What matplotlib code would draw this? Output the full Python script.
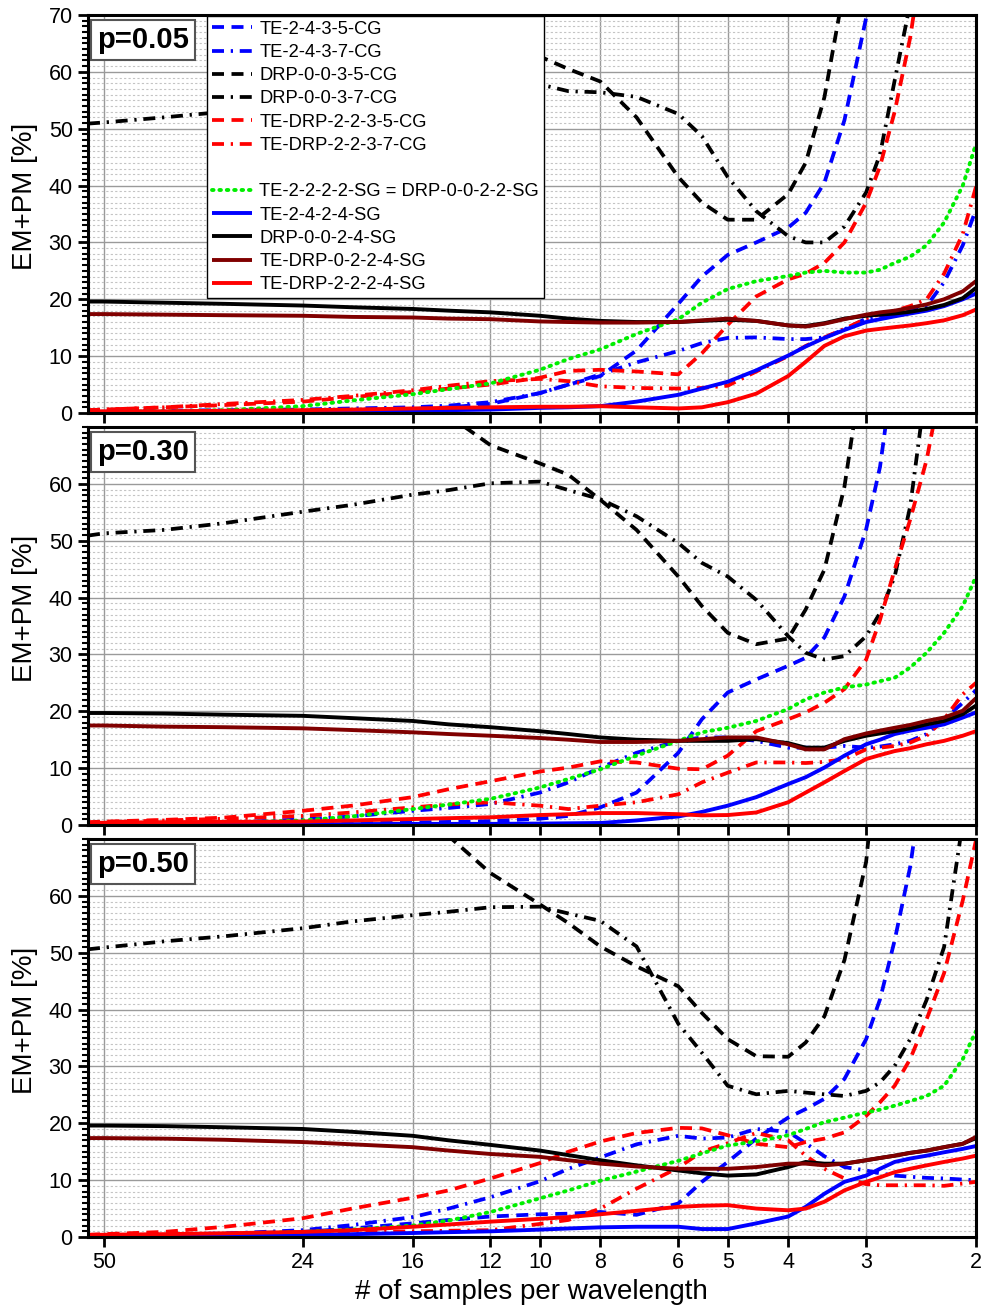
import numpy as np
import matplotlib
matplotlib.use("Agg")
import matplotlib.pyplot as plt
from matplotlib.lines import Line2D
from matplotlib.ticker import FixedLocator, MultipleLocator, NullLocator

nan = np.nan

# samples per wavelength, shared abscissa of every curve
spw = [53, 50, 40, 32, 24, 20, 16, 14, 12, 10, 9, 8, 7, 6, 5.5, 5, 4.5, 4,
       3.75, 3.5, 3.25, 3, 2.85, 2.7, 2.55, 2.4, 2.25, 2.1, 2]
spw_ticks = [50, 24, 16, 12, 10, 8, 6, 5, 4, 3, 2]

labels = ["TE-2-4-3-5-CG", "TE-2-4-3-7-CG", "DRP-0-0-3-5-CG", "DRP-0-0-3-7-CG",
          "TE-DRP-2-2-3-5-CG", "TE-DRP-2-2-3-7-CG",
          "TE-2-2-2-2-SG = DRP-0-0-2-2-SG", "TE-2-4-2-4-SG", "DRP-0-0-2-4-SG",
          "TE-DRP-0-2-2-4-SG", "TE-DRP-2-2-2-4-SG"]

# ---- p = 0.05 ----
p05_te2435 = [0.2, 0.2, 0.2, 0.3, 0.4, 0.5, 0.7, 1.0, 1.6, 3.5, 5.0, 6.5, 11.0, 19.2, 24.0, 27.8, 30.0, 32.6,
              35.2, 40.5, 51.5, 69.5, 85, nan, nan, nan, nan, nan, nan]
p05_te2437 = [0.3, 0.3, 0.4, 0.5, 0.6, 0.8, 1.0, 1.3, 1.9, 3.5, 5.0, 6.8, 8.9, 10.9, 12.3, 13.2, 13.3, 13.0,
              13.0, 13.3, 14.7, 16.6, 17.1, 17.5, 18.0, 18.8, 23.0, 29.5, 35.8]
p05_drp0035 = [nan, nan, nan, nan, nan, nan, nan, 74, 68, 62.7, 60.5, 58.3, 52.0, 41.5, 37.0, 34.0, 34.0, 38.5,
               44.0, 55.5, 75, nan, nan, nan, nan, nan, nan, nan, nan]
p05_drp0037 = [50.9, 51.1, 52.0, 53.0, 55.0, 56.0, 57.0, 57.5, 58.0, 57.8, 56.6, 56.4, 55.6, 52.6, 48.7, 41.5, 35.5, 31.1,
               30.0, 30.0, 32.8, 38.8, 45.5, 58.5, 72, nan, nan, nan, nan]
p05_tedrp2235 = [0.5, 0.6, 1.0, 1.4, 2.0, 2.8, 3.7, 4.3, 5.0, 6.2, 7.4, 7.6, 7.3, 6.8, 10.5, 15.5, 20.5, 23.5,
                 24.5, 26.4, 30.0, 37.0, 43.4, 53.0, 66.0, 85, nan, nan, nan]
p05_tedrp2237 = [0.5, 0.6, 1.0, 1.6, 2.3, 3.0, 4.0, 4.8, 5.6, 6.0, 5.6, 4.7, 4.4, 4.3, 4.4, 4.8, 7.3, 10.0,
                 11.8, 13.3, 14.8, 16.6, 17.4, 18.0, 18.8, 20.0, 24.5, 31.5, 39.8]
p05_te2222 = [0.2, 0.2, 0.3, 0.5, 1.2, 2.2, 3.3, 4.2, 5.2, 7.6, 9.5, 11.2, 13.9, 16.5, 19.4, 21.8, 23.2, 24.1,
              24.7, 25.0, 24.7, 24.7, 25.2, 26.4, 27.5, 29.5, 33.5, 40.0, 47.3]
p05_te2424 = [0.2, 0.2, 0.2, 0.25, 0.3, 0.35, 0.4, 0.5, 0.6, 0.9, 1.0, 1.2, 2.0, 3.2, 4.3, 5.5, 7.5, 10.1,
              11.7, 13.2, 14.6, 16.0, 16.5, 17.0, 17.5, 18.0, 18.8, 20.0, 21.0]
p05_drp0024 = [19.6, 19.6, 19.4, 19.2, 18.9, 18.6, 18.3, 18.0, 17.7, 17.1, 16.6, 16.2, 16.0, 16.0, 16.2, 16.4, 16.2, 15.4,
               15.3, 15.8, 16.6, 17.1, 17.3, 17.5, 17.8, 18.3, 19.0, 20.2, 22.0]
p05_tedrp0224 = [17.4, 17.4, 17.3, 17.2, 17.1, 16.9, 16.8, 16.6, 16.5, 16.1, 16.0, 15.9, 15.9, 16.0, 16.3, 16.6, 16.2, 15.4,
                 15.2, 15.7, 16.5, 17.3, 17.7, 18.0, 18.5, 19.1, 20.0, 21.4, 23.2]
p05_tedrp2224 = [0.3, 0.3, 0.3, 0.4, 0.5, 0.6, 0.8, 0.9, 1.0, 1.1, 1.1, 1.2, 1.0, 0.8, 1.0, 1.9, 3.4, 6.5,
                 9.0, 11.8, 13.5, 14.5, 14.8, 15.1, 15.4, 15.8, 16.3, 17.2, 18.2]

# ---- p = 0.30 ----
p30_te2435 = [0.2, 0.2, 0.2, 0.25, 0.3, 0.35, 0.45, 0.55, 0.7, 1.1, 1.6, 3.1, 5.7, 12.7, 18.6, 23.3, 25.6, 28.0,
              29.4, 33.0, 40.2, 52.0, 63.0, 82, nan, nan, nan, nan, nan]
p30_te2437 = [0.2, 0.2, 0.3, 0.4, 1.0, 1.5, 2.5, 3.0, 3.7, 5.7, 7.5, 10.1, 12.7, 14.8, 15.4, 15.4, 14.8, 13.6,
              13.6, 13.6, 13.9, 13.6, 13.8, 14.2, 14.8, 16.0, 18.6, 21.5, 23.7]
p30_drp0035 = [nan, nan, nan, nan, nan, nan, nan, 72, 66.8, 63.6, 61.6, 57.2, 51.9, 43.7, 38.5, 33.8, 31.8, 32.8,
               37.9, 44.9, 59.5, 85, nan, nan, nan, nan, nan, nan, nan]
p30_drp0037 = [50.9, 51.3, 51.9, 53.1, 55.1, 56.3, 58.1, 58.9, 60.1, 60.4, 58.9, 57.3, 54.3, 49.6, 46.1, 43.7, 39.6, 33.2,
               30.3, 29.1, 29.7, 33.2, 37.3, 43.7, 56.0, 78, nan, nan, nan]
p30_tedrp2235 = [0.5, 0.6, 0.9, 1.3, 2.5, 3.4, 4.9, 6.3, 7.7, 9.4, 10.1, 11.2, 11.0, 9.9, 9.8, 12.2, 16.5, 18.6,
                 19.8, 21.5, 23.9, 29.1, 36.1, 44.9, 53.7, 64.2, 80, nan, nan]
p30_tedrp2237 = [0.4, 0.5, 0.8, 1.1, 1.6, 2.2, 3.1, 3.6, 4.0, 3.4, 2.8, 3.4, 4.0, 5.4, 7.5, 9.2, 11.0, 11.0,
                 10.9, 11.1, 11.6, 13.3, 13.6, 13.9, 14.5, 15.7, 18.6, 23.0, 25.0]
p30_te2222 = [0.2, 0.2, 0.3, 0.4, 0.8, 1.5, 2.8, 3.6, 4.6, 6.6, 8.1, 9.8, 12.2, 14.8, 16.3, 17.1, 18.3, 20.4,
              22.1, 23.3, 24.2, 24.7, 25.3, 25.9, 27.7, 30.3, 33.8, 38.5, 43.7]
p30_te2424 = [0.1, 0.1, 0.1, 0.1, 0.15, 0.15, 0.2, 0.2, 0.2, 0.25, 0.3, 0.35, 0.8, 1.5, 2.3, 3.4, 4.9, 7.2,
              8.4, 10.1, 12.2, 14.2, 15.0, 16.0, 16.6, 17.1, 17.7, 18.9, 19.8]
p30_drp0024 = [19.7, 19.7, 19.6, 19.4, 19.2, 18.8, 18.3, 17.7, 17.2, 16.5, 16.0, 15.4, 15.0, 14.8, 14.8, 14.8, 15.1, 14.4,
               13.6, 13.6, 14.8, 15.7, 16.1, 16.5, 17.0, 17.7, 18.3, 19.5, 21.0]
p30_tedrp0224 = [17.5, 17.5, 17.3, 17.2, 17.0, 16.7, 16.3, 16.0, 15.7, 15.3, 15.0, 14.6, 14.6, 14.8, 15.1, 15.4, 15.4, 14.2,
                 13.3, 13.3, 15.1, 16.1, 16.6, 17.1, 17.6, 18.3, 18.9, 20.1, 22.3]
p30_tedrp2224 = [0.35, 0.4, 0.5, 0.55, 0.6, 0.8, 1.05, 1.2, 1.35, 1.75, 1.9, 2.1, 2.1, 1.9, 1.7, 1.75, 2.2, 4.0,
                 5.7, 7.5, 9.5, 11.6, 12.3, 13.0, 13.5, 14.2, 14.8, 15.7, 16.5]

# ---- p = 0.50 ----
p50_te2435 = [0.35, 0.4, 0.5, 0.6, 0.9, 1.5, 2.4, 3.0, 3.6, 4.0, 4.1, 4.4, 3.9, 5.9, 9.7, 13.2, 17.3, 21.0,
              22.5, 24.3, 27.8, 34.8, 41.8, 52.2, 65.1, 85, nan, nan, nan]
p50_te2437 = [0.2, 0.2, 0.35, 0.6, 1.2, 2.1, 3.5, 5.0, 7.0, 9.8, 12.0, 14.0, 16.3, 17.8, 17.3, 17.5, 19.0, 18.5,
              16.5, 14.2, 12.3, 11.7, 11.2, 10.8, 10.6, 10.4, 10.3, 10.1, 10.0]
p50_drp0035 = [nan, nan, nan, nan, nan, nan, 74, 70.5, 64.0, 58.5, 55.2, 51.1, 47.6, 44.1, 39.4, 34.8, 31.8, 31.7,
               34.2, 38.8, 48.7, 66, 90, nan, nan, nan, nan, nan, nan]
p50_drp0037 = [50.6, 50.9, 52.0, 52.9, 54.3, 55.5, 56.6, 57.2, 58.0, 58.1, 56.9, 55.6, 51.1, 37.5, 32.4, 26.6, 25.1, 25.7,
               25.4, 25.1, 24.8, 25.7, 27.2, 30.1, 34.8, 41.7, 51.0, 73, nan]
p50_tedrp2235 = [0.4, 0.5, 0.9, 1.8, 3.3, 5.0, 6.9, 8.2, 10.3, 13.0, 15.0, 16.8, 18.3, 19.2, 19.1, 17.9, 16.4, 15.8,
                 16.7, 17.3, 18.4, 21.3, 23.7, 26.6, 31.3, 38.3, 46.4, 59.2, 69.8]
p50_tedrp2237 = [0.2, 0.25, 0.35, 0.45, 0.6, 0.8, 1.0, 1.1, 1.2, 2.3, 3.0, 5.0, 8.5, 12.2, 15.0, 16.5, 18.3, 17.0,
                 14.3, 12.0, 10.3, 9.3, 9.1, 9.1, 9.1, 9.1, 9.0, 9.4, 9.7]
p50_te2222 = [0.2, 0.2, 0.3, 0.5, 0.9, 1.3, 2.0, 2.9, 4.4, 6.8, 8.2, 9.9, 11.5, 13.4, 14.7, 16.1, 16.8, 17.9,
              19.0, 20.2, 21.0, 21.9, 22.4, 23.1, 23.9, 24.8, 26.6, 31.3, 36.2]
p50_te2424 = [0.1, 0.1, 0.15, 0.2, 0.35, 0.5, 0.7, 0.85, 1.0, 1.3, 1.5, 1.7, 1.8, 1.8, 1.4, 1.4, 2.4, 3.6,
              5.3, 7.6, 9.7, 10.8, 12.0, 13.2, 13.8, 14.3, 14.9, 15.5, 16.0]
p50_drp0024 = [19.6, 19.6, 19.5, 19.3, 19.0, 18.5, 17.8, 17.0, 16.2, 15.2, 14.4, 13.5, 12.6, 11.7, 11.2, 10.8, 11.0, 12.3,
               13.2, 12.9, 12.9, 13.5, 13.9, 14.3, 14.8, 15.2, 15.8, 16.4, 17.4]
p50_tedrp0224 = [17.4, 17.4, 17.3, 17.1, 16.7, 16.3, 15.8, 15.2, 14.6, 14.1, 13.5, 12.9, 12.4, 12.0, 12.0, 12.0, 12.3, 12.9,
                 12.9, 12.6, 12.9, 13.5, 13.9, 14.3, 14.8, 15.2, 15.8, 16.4, 17.6]
p50_tedrp2224 = [0.35, 0.4, 0.5, 0.65, 0.9, 1.2, 1.8, 2.2, 2.7, 3.2, 3.5, 4.0, 4.6, 5.3, 5.5, 5.6, 5.0, 4.7,
                 5.0, 6.2, 8.2, 9.7, 10.5, 11.4, 12.0, 12.6, 13.2, 13.8, 14.3]

panels = [
    ("p=0.05", [p05_te2435, p05_te2437, p05_drp0035, p05_drp0037, p05_tedrp2235, p05_tedrp2237,
                p05_te2222, p05_te2424, p05_drp0024, p05_tedrp0224, p05_tedrp2224]),
    ("p=0.30", [p30_te2435, p30_te2437, p30_drp0035, p30_drp0037, p30_tedrp2235, p30_tedrp2237,
                p30_te2222, p30_te2424, p30_drp0024, p30_tedrp0224, p30_tedrp2224]),
    ("p=0.50", [p50_te2435, p50_te2437, p50_drp0035, p50_drp0037, p50_tedrp2235, p50_tedrp2237,
                p50_te2222, p50_te2424, p50_drp0024, p50_tedrp0224, p50_tedrp2224]),
]

DASH = (0, (3.2, 2.0))
DASHDOT = (0, (3.2, 1.8, 0.6, 1.8))
DOT = (0, (0.4, 1.5))
styles = [
    dict(color="#0000ff", ls=DASH, lw=2.7),
    dict(color="#0000ff", ls=DASHDOT, lw=2.7),
    dict(color="#000000", ls=DASH, lw=2.7),
    dict(color="#000000", ls=DASHDOT, lw=2.7),
    dict(color="#ff0000", ls=DASH, lw=2.7),
    dict(color="#ff0000", ls=DASHDOT, lw=2.7),
    dict(color="#00ee00", ls=DOT, lw=2.8, dash_capstyle="round"),
    dict(color="#0000ff", ls="-", lw=2.8),
    dict(color="#000000", ls="-", lw=2.8),
    dict(color="#800000", ls="-", lw=2.8),
    dict(color="#ff0000", ls="-", lw=2.8),
]

plt.rcParams["font.family"] = ["Liberation Sans", "DejaVu Sans"]

fig = plt.figure(figsize=(9.81, 13.10), dpi=100)
W, H = 981.0, 1310.0
left, right = 88 / W, 976 / W
tops = [15, 427, 839]
ph = 398

x = np.array(spw)
for i, (tag, series) in enumerate(panels):
    ax = fig.add_axes([left, 1 - (tops[i] + ph) / H, right - left, ph / H])
    handles = []
    for y, st, lab in zip(series, styles, labels):
        ln, = ax.plot(x, y, label=lab, solid_capstyle="butt", **st)
        handles.append(ln)

    ax.set_xscale("log")
    ax.set_xlim(53, 2)
    ax.set_ylim(0, 70)
    ax.xaxis.set_major_locator(FixedLocator(spw_ticks))
    ax.xaxis.set_minor_locator(NullLocator())
    ax.set_xticklabels([str(t) for t in spw_ticks])
    yt = list(range(0, 71, 10)) if i == 0 else list(range(0, 61, 10))
    ax.set_yticks(yt)
    ax.yaxis.set_minor_locator(MultipleLocator(1))

    ax.grid(which="major", axis="both", color="#9a9a9a", lw=1.0, ls="-")
    ax.grid(which="minor", axis="y", color="#c4c4c4", lw=0.8, ls=(0, (2, 2)))
    ax.set_axisbelow(True)

    ax.tick_params(axis="both", which="major", direction="out", length=7, width=2,
                   labelsize=15.5, pad=4)
    ax.tick_params(axis="y", which="minor", direction="out", length=4, width=1.5)
    ax.tick_params(axis="x", labelbottom=(i == 2))
    for sp in ax.spines.values():
        sp.set_linewidth(2.2)

    ax.text(0.062, 0.937, tag, transform=ax.transAxes, fontsize=21, fontweight="bold",
            ha="center", va="center",
            bbox=dict(boxstyle="square,pad=0.2", fc="white", ec="#555555", lw=1.5))

    fig.text(25 / W, 1 - (tops[i] + 181) / H, "EM+PM [%]", rotation=90, ha="center", va="center",
             fontsize=20)

    if i == 0:
        blank = Line2D([], [], ls="none", label=" ")
        leg_handles = handles[:6] + [blank] + handles[6:]
        leg = ax.legend(handles=leg_handles, loc="upper left", bbox_to_anchor=(0.134, 0.997),
                        borderaxespad=0, fontsize=13.2, frameon=True, fancybox=False,
                        edgecolor="black", framealpha=1, labelspacing=0.34,
                        handlelength=2.2, handletextpad=0.4, borderpad=0.25)
        leg.get_frame().set_linewidth(1.0)

fig.text(531 / W, 1 - 1292 / H, "# of samples per wavelength", ha="center", va="center",
         fontsize=20)

fig.savefig("out.png", dpi=100)
